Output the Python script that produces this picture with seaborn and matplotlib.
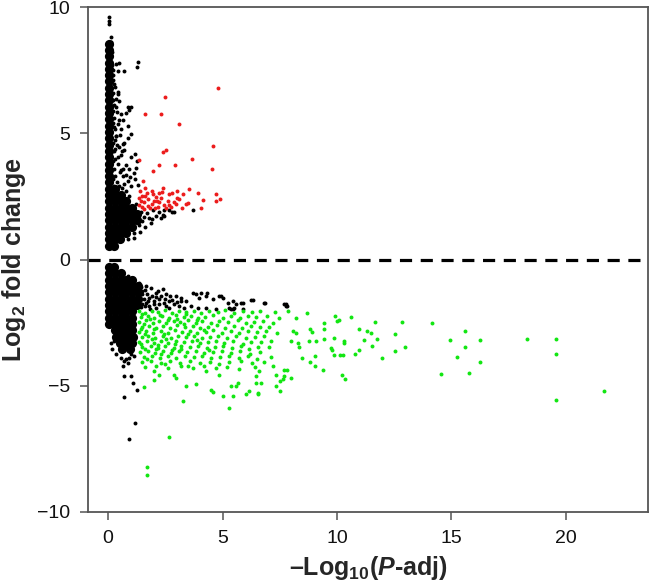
import matplotlib
matplotlib.use("Agg")
import matplotlib.pyplot as plt
import pandas as pd
import seaborn as sns

# significant up (red): (-log10 padj, log2 fold change)
red_pts = [
    (4.78, 6.79), (2.48, 6.42), (1.59, 5.75), (2.31, 5.76), (3.08, 5.36),
    (4.58, 4.48), (2.52, 4.35), (2.38, 4.24), (3.66, 4.00), (1.36, 3.94),
    (2.23, 3.75), (2.92, 3.75), (4.52, 3.60), (1.98, 3.51), (1.53, 3.09),
    (3.91, 2.65), (3.54, 2.78), (4.71, 2.59), (4.89, 2.39), (4.71, 2.32),
    (4.16, 2.37), (4.06, 2.02), (3.51, 2.23), (3.28, 2.59), (3.22, 2.03),
    (3.03, 2.45), (2.87, 2.26), (2.67, 2.59), (2.60, 2.33), (2.46, 2.14),
    (2.31, 2.45), (2.20, 2.06), (2.12, 2.33), (1.97, 2.59), (1.90, 2.20),
    (1.76, 2.39), (1.68, 2.65), (1.58, 2.26), (1.48, 2.52), (1.46, 2.06),
    (1.55, 2.01), (1.84, 2.03), (2.06, 2.02), (1.42, 2.33), (1.40, 2.72),
    (1.63, 2.85), (1.90, 2.72), (2.36, 2.69), (2.79, 2.65), (3.10, 2.39),
    (3.39, 2.20), (2.52, 2.02), (2.23, 2.26), (1.76, 2.13), (2.73, 2.06),
    (2.95, 2.20), (2.09, 2.47), (2.23, 2.65), (1.35, 2.45), (1.62, 2.50),
    (2.40, 2.85), (2.00, 2.30), (2.65, 2.15), (3.00, 2.70), (1.35, 2.15),
]

# significant down (green), dense part
green_pts = [
    (1.35, -2.03), (1.62, -2.10), (1.90, -2.02), (2.17, -2.08), (2.50, -2.01),
    (2.80, -2.12), (3.10, -2.04), (3.42, -2.09), (3.75, -2.02), (4.05, -2.10),
    (4.40, -2.03), (4.80, -2.07), (5.12, -2.01), (5.50, -2.11), (5.90, -2.03),
    (6.30, -2.06), (6.62, -2.02), (7.30, -2.08),
    (1.45, -2.27), (1.75, -2.22), (2.02, -2.30), (2.36, -2.24), (2.66, -2.31),
    (2.96, -2.21), (3.30, -2.28), (3.60, -2.23), (3.92, -2.32), (4.25, -2.26),
    (4.60, -2.21), (5.00, -2.30), (5.36, -2.24), (5.76, -2.33), (6.10, -2.25),
    (6.45, -2.29), (6.92, -2.22), (7.45, -2.30),
    (1.33, -2.46), (1.66, -2.41), (1.96, -2.50), (2.22, -2.44), (2.52, -2.52),
    (2.86, -2.42), (3.16, -2.48), (3.50, -2.40), (3.82, -2.50), (4.12, -2.45),
    (4.50, -2.53), (4.86, -2.43), (5.22, -2.49), (5.66, -2.41), (6.02, -2.52),
    (6.36, -2.46), (6.76, -2.42), (7.22, -2.50),
    (1.50, -2.66), (1.80, -2.62), (2.10, -2.70), (2.40, -2.63), (2.72, -2.71),
    (3.02, -2.61), (3.36, -2.68), (3.70, -2.64), (4.02, -2.72), (4.36, -2.66),
    (4.76, -2.60), (5.10, -2.70), (5.50, -2.65), (5.86, -2.73), (6.26, -2.63),
    (6.62, -2.69), (7.02, -2.66),
    (1.36, -2.86), (1.66, -2.82), (1.96, -2.91), (2.30, -2.84), (2.60, -2.90),
    (2.92, -2.81), (3.22, -2.88), (3.56, -2.83), (3.90, -2.92), (4.26, -2.86),
    (4.60, -2.81), (4.96, -2.90), (5.36, -2.84), (5.72, -2.93), (6.12, -2.85),
    (6.50, -2.88), (6.90, -2.82), (7.36, -2.90),
    (1.46, -3.06), (1.76, -3.02), (2.06, -3.10), (2.40, -3.03), (2.76, -3.11),
    (3.06, -3.01), (3.40, -3.08), (3.76, -3.04), (4.10, -3.12), (4.46, -3.05),
    (4.82, -3.01), (5.20, -3.10), (5.60, -3.04), (6.02, -3.12), (6.40, -3.06),
    (6.82, -3.03),
    (1.35, -3.26), (1.70, -3.22), (2.00, -3.30), (2.30, -3.23), (2.62, -3.31),
    (2.96, -3.21), (3.30, -3.28), (3.66, -3.24), (4.00, -3.32), (4.36, -3.26),
    (4.72, -3.21), (5.06, -3.30), (5.46, -3.24), (5.90, -3.33), (6.26, -3.25),
    (6.70, -3.28), (7.12, -3.22),
    (1.50, -3.46), (1.86, -3.42), (2.16, -3.50), (2.50, -3.43), (2.86, -3.51),
    (3.20, -3.41), (3.56, -3.48), (3.92, -3.44), (4.30, -3.52), (4.66, -3.46),
    (5.02, -3.41), (5.40, -3.50), (5.82, -3.44), (6.16, -3.53), (6.56, -3.45),
    (7.02, -3.48),
    (1.40, -3.66), (1.76, -3.62), (2.06, -3.70), (2.40, -3.63), (2.76, -3.71),
    (3.10, -3.61), (3.46, -3.68), (3.86, -3.64), (4.20, -3.72), (4.60, -3.66),
    (4.96, -3.61), (5.36, -3.70), (5.76, -3.64), (6.20, -3.73), (6.62, -3.65),
    (1.56, -3.86), (1.90, -3.82), (2.26, -3.90), (2.60, -3.83), (2.96, -3.91),
    (3.36, -3.81), (3.76, -3.88), (4.10, -3.84), (4.50, -3.92), (4.90, -3.86),
    (5.30, -3.81), (5.70, -3.90), (6.10, -3.84), (6.52, -3.93), (7.10, -3.85),
    (1.46, -4.06), (1.86, -4.02), (2.30, -4.10), (2.70, -4.03), (3.12, -4.11),
    (3.56, -4.01), (4.00, -4.08), (4.46, -4.04), (4.86, -4.12), (5.30, -4.06),
    (5.80, -4.01), (6.30, -4.10), (6.80, -4.04),
    (1.60, -4.26), (2.10, -4.22), (2.62, -4.30), (3.20, -4.23), (3.70, -4.31),
    (4.20, -4.21), (4.70, -4.28), (5.20, -4.24), (5.70, -4.32), (6.40, -4.26),
    (7.20, -4.22),
    (1.50, -2.15), (1.82, -2.35), (2.25, -2.18), (2.60, -2.38), (1.55, -2.56),
    (2.00, -2.76), (2.45, -2.96), (1.60, -2.95), (1.90, -3.15), (2.20, -3.37),
    (2.55, -3.15), (1.60, -3.55), (2.90, -3.35), (2.30, -3.75), (1.70, -3.95),
    (3.00, -2.35), (3.30, -2.55), (3.50, -2.95), (3.20, -3.55), (2.10, -3.55),
    (1.45, -2.75), (1.45, -3.35), (2.80, -3.60), (3.40, -2.15), (3.90, -2.40),
    (4.20, -2.80), (3.90, -3.20), (4.40, -3.60), (2.50, -4.15), (2.00, -4.40),
    (3.50, -4.20),
]

# significant down (green), sparse tail and outliers
green_far_pts = [
    (7.85, -2.04), (8.68, -2.11), (8.21, -2.31), (9.93, -2.24), (10.00, -2.44),
    (10.10, -2.40), (10.63, -2.28), (11.66, -2.49), (12.85, -2.48), (14.15, -2.53),
    (9.44, -2.52), (9.44, -2.77), (8.84, -2.77), (8.90, -2.88), (8.07, -2.84),
    (8.20, -2.92), (10.98, -2.77), (11.32, -2.84), (11.50, -2.91), (12.53, -2.94),
    (15.61, -2.84), (14.95, -3.18), (15.61, -3.46), (16.24, -3.19), (18.31, -3.14),
    (19.56, -3.14), (19.56, -3.74), (16.24, -4.05), (15.24, -3.87), (15.77, -4.50),
    (14.53, -4.53), (19.56, -5.55), (21.68, -5.21), (12.95, -3.46), (12.55, -3.63),
    (11.96, -3.90), (11.77, -3.13), (11.16, -3.18), (11.54, -3.41), (10.98, -3.60),
    (10.77, -3.76), (10.30, -3.23), (10.30, -3.30), (10.26, -3.79), (10.23, -4.56),
    (10.37, -4.75), (9.86, -3.10), (9.76, -3.50), (9.80, -3.57), (9.89, -3.80),
    (10.14, -3.80), (9.44, -3.14), (9.38, -4.36), (9.09, -3.23), (9.02, -3.83),
    (9.06, -4.23), (8.80, -4.07), (8.77, -3.23), (8.48, -3.90), (8.36, -3.46),
    (8.29, -3.32), (8.00, -3.23), (8.00, -4.69), (7.70, -4.36), (7.82, -4.39),
    (7.63, -4.75), (7.53, -4.83), (7.51, -5.22), (7.34, -5.02), (7.70, -4.60),
    (6.54, -5.33), (6.46, -4.89), (6.68, -4.89),
    (1.68, -8.21), (1.68, -8.53), (2.68, -7.02), (3.25, -5.62), (5.27, -5.89),
    (1.55, -5.06), (5.44, -5.42), (5.37, -5.02), (6.03, -5.33), (6.17, -5.20),
    (6.53, -5.28), (4.49, -5.15), (4.60, -5.26), (5.00, -5.42), (5.59, -5.02),
    (5.66, -4.89), (3.84, -4.95), (3.40, -5.02), (2.96, -4.69), (2.89, -4.56),
    (2.23, -4.56), (2.01, -4.76), (4.27, -4.43), (4.86, -4.56), (6.46, -4.62),
    (6.60, -4.43), (7.33, -4.56),
]

# not significant (black), scattered points
black_pts = [
    (0.04, 9.62), (0.04, 9.44), (0.04, 9.33), (0.12, 8.83),
    (0.48, 7.79), (0.36, 7.74), (1.31, 7.84), (1.24, 7.61), (0.70, 7.45),
    (0.45, 7.48), (0.41, 6.55), (0.48, 6.29), (0.85, 6.05), (0.99, 6.02),
    (0.77, 5.80), (0.92, 5.93), (0.63, 5.54), (0.85, 5.27), (0.99, 4.97),
    (0.85, 4.83), (0.63, 4.57), (0.48, 4.44), (1.18, 4.17), (1.28, 3.91),
    (1.21, 3.64), (0.99, 4.05), (0.77, 3.74), (1.14, 3.43), (0.70, 4.34),
    (0.41, 4.05), (0.55, 3.54), (0.48, 5.54), (0.36, 4.89), (0.31, 4.37),
    (0.26, 6.95), (0.33, 6.02), (0.26, 5.23), (0.18, 7.69), (0.20, 7.30),
    (1.17, 3.17), (1.31, 2.97), (1.02, 2.90), (0.85, 3.10), (0.63, 3.30),
    (0.48, 2.90), (0.77, 2.70), (0.92, 2.50), (0.16, 8.20), (0.14, 8.60),
    (0.25, 2.90), (0.40, 3.05), (0.30, 3.30), (0.50, 3.45), (0.25, 3.60),
    (0.42, 3.80), (0.30, 4.00), (0.55, 4.15), (0.25, 4.30), (0.40, 4.55),
    (0.28, 4.75), (0.50, 4.95), (0.30, 5.15), (0.45, 5.35), (0.25, 5.60),
    (0.38, 5.85), (0.25, 6.10), (0.35, 6.35), (0.22, 6.60), (0.30, 6.85),
    (0.22, 7.10), (0.20, 7.50), (0.60, 2.85), (0.70, 3.00), (0.65, 3.60),
    (0.60, 4.30), (0.35, 4.90), (0.20, 5.40), (0.20, 5.90), (0.20, 4.60),
    (0.20, 3.90), (0.20, 3.20), (0.45, 6.65), (0.55, 5.15), (0.55, 5.75),
    (0.70, 4.60), (0.80, 3.35), (0.90, 3.60), (0.95, 3.25), (0.20, 6.30),
    (3.69, 1.95), (2.88, 1.89), (2.67, 1.97), (2.38, 1.78), (2.09, 1.72),
    (1.80, 1.65), (1.50, 1.52), (2.23, 1.90), (2.45, 1.95), (2.79, 1.88),
    (2.45, 1.73), (2.30, 1.66), (1.87, 1.46), (0.85, 0.80), (1.93, 1.59),
    (1.70, 1.85), (1.95, 1.95), (1.62, 1.30), (1.40, 1.10), (1.15, 0.85),
    (1.55, 1.70), (1.45, 1.90), (1.35, 1.35), (1.20, 2.20), (1.15, 1.05),
    (0.63, -0.59), (0.85, -0.65), (1.07, -0.72), (1.36, -0.92), (1.65, -1.05),
    (1.87, -1.12), (2.09, -1.32), (2.38, -1.18), (2.52, -1.38), (2.96, -1.45),
    (3.18, -1.52), (3.40, -1.65), (3.69, -1.32), (3.84, -1.38), (3.98, -1.52),
    (4.06, -1.32), (4.27, -1.45), (4.34, -1.32), (4.57, -1.58), (4.86, -1.45),
    (5.00, -1.52), (5.22, -1.71), (5.44, -1.65), (5.59, -1.78), (5.81, -1.71),
    (6.24, -1.62), (6.83, -1.71), (7.78, -1.78), (7.78, -1.86),
    (1.50, -1.38), (1.79, -1.52), (2.01, -1.65), (2.23, -1.58), (2.45, -1.71),
    (2.67, -1.65), (2.89, -1.78), (3.11, -1.85), (3.33, -1.91), (3.62, -1.85),
    (1.65, -1.71), (2.09, -1.91), (2.67, -1.91), (2.23, -1.78), (1.50, -1.78),
    (1.79, -1.85), (5.30, -1.91), (5.44, -1.98), (5.88, -1.96), (4.27, -1.91),
    (4.71, -1.97), (3.91, -1.91), (4.93, -1.45), (5.88, -1.71), (6.32, -1.62),
    (6.87, -1.71), (7.70, -1.78), (7.80, -1.85), (5.37, -1.98), (5.52, -1.91),
    (1.50, -1.25), (1.70, -1.35), (1.90, -1.45), (2.10, -1.50), (1.55, -1.55),
    (1.75, -1.65), (2.00, -1.75), (2.30, -1.45), (1.45, -1.90), (1.85, -1.95),
    (1.60, -1.85), (2.50, -1.55), (2.70, -1.45), (1.45, -1.10), (1.60, -1.20),
    (2.20, -1.25), (2.80, -1.62), (3.00, -1.70), (2.55, -1.85), (3.20, -1.65),
    (0.12, -3.30), (0.26, -3.23), (0.19, -3.56), (0.33, -3.76), (0.55, -3.90),
    (0.70, -4.03), (0.77, -3.96), (0.92, -3.90), (0.63, -4.23), (0.85, -4.10),
    (0.99, -3.76), (1.14, -3.83), (0.70, -4.62), (0.99, -4.62), (1.07, -4.89),
    (1.28, -5.15), (0.70, -5.46), (1.18, -6.48), (0.92, -7.10),
]

# solid black band along x ~ 0, read as rows of (log2 fold change, [-log10 padj, ...])
black_core_rows = [
    (8.55, [0.05]), (8.30, [0.05]), (8.05, [0.05]), (7.80, [0.05]),
    (7.55, [0.05]), (7.30, [0.05]), (7.05, [0.05]), (6.80, [0.05]),
    (6.55, [0.05]), (6.30, [0.05]), (6.05, [0.05]), (5.80, [0.05]),
    (5.55, [0.05]), (5.30, [0.05]), (5.05, [0.05]), (4.80, [0.05]),
    (4.55, [0.05]), (4.30, [0.05]), (4.05, [0.05]), (3.80, [0.05]),
    (3.55, [0.05]), (3.30, [0.05]), (3.05, [0.05]), (2.80, [0.05, 0.30]),
    (2.55, [0.05, 0.30, 0.55]), (2.30, [0.05, 0.30, 0.55, 0.80]),
    (2.05, [0.05, 0.30, 0.55, 0.80, 1.05]),
    (1.80, [0.05, 0.30, 0.55, 0.80, 1.05, 1.25]),
    (1.55, [0.05, 0.30, 0.55, 0.80, 1.05, 1.25]),
    (1.30, [0.05, 0.30, 0.55, 0.80, 1.05]), (1.05, [0.05, 0.30, 0.55, 0.80]),
    (0.80, [0.05, 0.30, 0.50]), (0.55, [0.05, 0.25]),
    (-0.30, [0.05, 0.25]), (-0.55, [0.05, 0.30, 0.55]),
    (-0.80, [0.05, 0.30, 0.55, 0.80, 1.05]),
    (-1.05, [0.05, 0.30, 0.55, 0.80, 1.05, 1.30]),
    (-1.30, [0.05, 0.30, 0.55, 0.80, 1.05, 1.30]),
    (-1.55, [0.05, 0.30, 0.55, 0.80, 1.05, 1.30]),
    (-1.80, [0.05, 0.30, 0.55, 0.80, 1.05, 1.25]),
    (-2.05, [0.05, 0.30, 0.55, 0.80, 1.05]), (-2.30, [0.05, 0.30, 0.55, 0.80, 1.05]),
    (-2.55, [0.05, 0.30, 0.55, 0.80, 1.05]), (-2.80, [0.30, 0.55, 0.80, 1.05]),
    (-3.05, [0.35, 0.60, 0.85, 1.10]), (-3.30, [0.50, 0.80, 1.05]),
    (-3.55, [0.60, 0.95]),
]

x_ticks = [0, 5, 10, 15, 20]
y_ticks = [-10, -5, 0, 5, 10]
y_tick_labels = ["\u221210", "\u22125", "0", "5", "10"]
x_label = "\u2013Log$_{\\mathbf{10}}$($\\mathbfit{P}$-adj)"
y_label = "Log$_{\\mathbf{2}}$ fold change"


def to_frame(pts):
    return pd.DataFrame(pts, columns=["padj", "lfc"])


core = to_frame([(x, y) for y, xs in black_core_rows for x in xs])

sns.set_style("white")
plt.rcParams["font.family"] = ["Liberation Sans", "DejaVu Sans"]
plt.rcParams["mathtext.fontset"] = "custom"
plt.rcParams["mathtext.rm"] = "Liberation Sans"
plt.rcParams["mathtext.bf"] = "Liberation Sans:bold"
plt.rcParams["mathtext.it"] = "Liberation Sans:italic"
if "mathtext.bfit" in plt.rcParams:
    plt.rcParams["mathtext.bfit"] = "Liberation Sans:italic:bold"

fig = plt.figure(figsize=(6.5, 5.87), dpi=100)
ax = fig.add_axes([88 / 650, 1 - 512 / 587, 560 / 650, 505 / 587])

dot = dict(linewidth=0, legend=False, ax=ax)
# dense band: large overlapping marks so neighbouring genes merge into a solid area
sns.scatterplot(data=core, x="padj", y="lfc", color="black", s=44, **dot)
sns.scatterplot(data=to_frame(black_pts), x="padj", y="lfc", color="black", s=8, **dot)
sns.scatterplot(data=to_frame(green_pts), x="padj", y="lfc", color="#12e612", s=8, **dot)
sns.scatterplot(data=to_frame(green_far_pts), x="padj", y="lfc", color="#12e612", s=8, **dot)
sns.scatterplot(data=to_frame(red_pts), x="padj", y="lfc", color="#ec1c1c", s=8, **dot)

ax.axhline(0, color="black", lw=2.3, dashes=(3.8, 2.7))

ax.set_xlim(-0.88, 23.59)
ax.set_ylim(-10, 10)
ax.set_xticks(x_ticks)
ax.set_yticks(y_ticks)
ax.set_yticklabels(y_tick_labels)
ax.tick_params(axis="both", direction="out", length=6, width=1.1, color="#555555",
               labelsize=14, labelcolor="#111111", pad=7,
               bottom=True, left=True)
for sp in ax.spines.values():
    sp.set_color("#555555")
    sp.set_linewidth(1.3)

ax.set_xlabel(x_label, fontsize=18, fontweight="bold", labelpad=5)
ax.set_ylabel(y_label, fontsize=18, fontweight="bold", labelpad=6)

fig.savefig("out.png", dpi=100)
